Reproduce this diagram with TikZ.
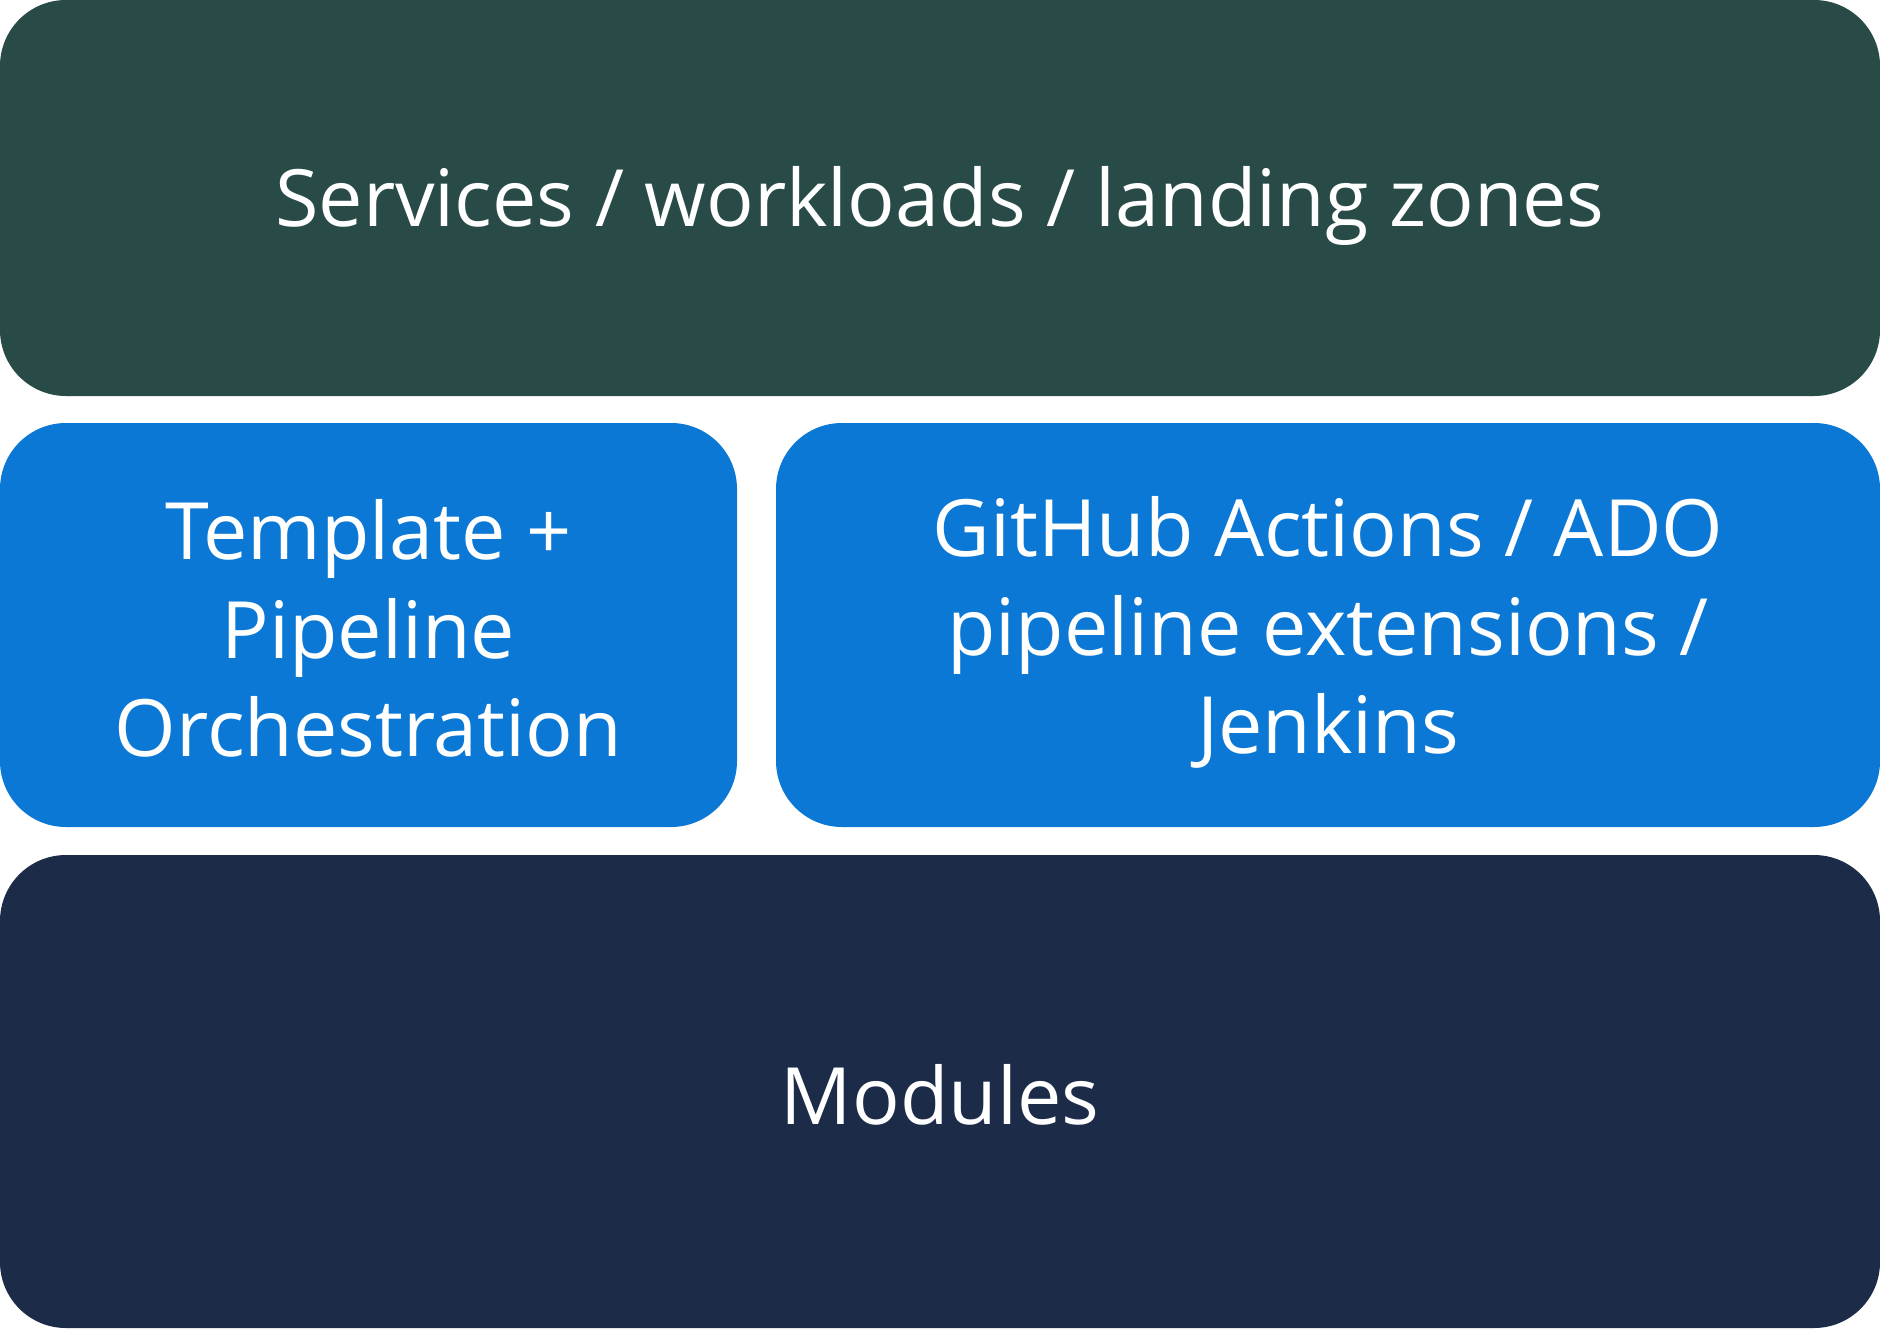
\documentclass[tikz,border=0pt]{standalone}
\usepackage{fontspec}
\setmainfont{Open Sans}
\usetikzlibrary{positioning}
\definecolor{layergreen}{HTML}{284B48}
\definecolor{layerblue}{HTML}{0A78D4}
\definecolor{layernavy}{HTML}{1C2B48}
\newcommand{\capstrut}{\rule[-2.5pt]{0pt}{24pt}}
\tikzset{
  layer/.style={rounded corners=0.66cm, text=white, inner sep=0pt, outer sep=0pt,
    align=center, font=\fontsize{22.5}{28}\selectfont}
}

\begin{document}
\begin{tikzpicture}
                \useasboundingbox (0,0) rectangle (18.8,-13.28);
                % Top layer
                \node[layer, fill=layergreen, minimum width=18.8cm, minimum height=3.96cm]
                    (services) at (9.4,-1.98) {\capstrut Services / workloads / landing zones};

                % Middle layer
                \node[layer, fill=layerblue, minimum width=7.37cm, minimum height=4.04cm]
                    (orchestration) at (3.685,-6.25) {\capstrut Template +\\Pipeline\\\capstrut Orchestration};
                \node[layer, fill=layerblue, minimum width=11.04cm, minimum height=4.04cm]
                    (extensions) at (13.28,-6.25) {\capstrut GitHub Actions / ADO\\pipeline extensions /\\\capstrut Jenkins};

                % Bottom layer
                \node[layer, fill=layernavy, minimum width=18.8cm, minimum height=4.73cm]
                    (modules) at (9.4,-10.915) {\capstrut Modules};
            \end{tikzpicture}
\end{document}
